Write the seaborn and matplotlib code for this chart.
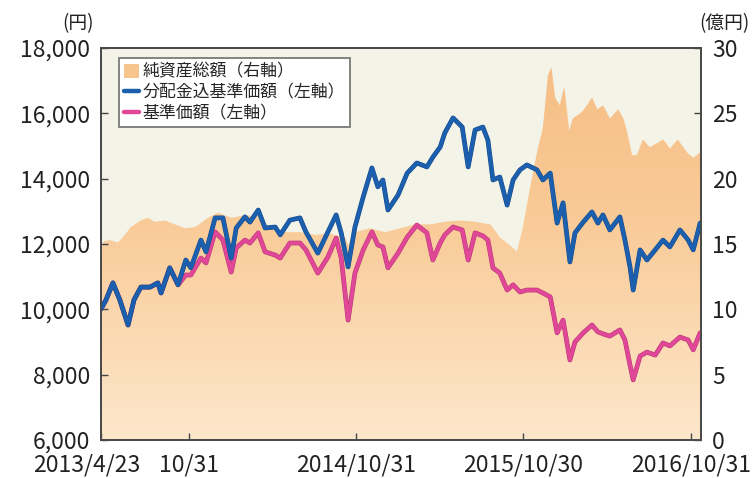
import numpy as np
import pandas as pd
import matplotlib
matplotlib.use('Agg')
import matplotlib.pyplot as plt
import matplotlib.dates as mdates
import matplotlib.patheffects as pe
from matplotlib.patches import Patch
from matplotlib.lines import Line2D
from matplotlib.colors import LinearSegmentedColormap
from matplotlib.transforms import ScaledTranslation
import seaborn as sns

# 基準価額の日付（両系列共通）
line_dates = [
    '2013-04-23', '2013-05-04', '2013-05-19', '2013-06-03', '2013-06-21', '2013-07-04', '2013-07-19', '2013-08-08', '2013-08-25', '2013-09-01',
    '2013-09-20', '2013-10-08', '2013-10-25', '2013-11-05', '2013-11-27', '2013-12-08', '2013-12-28', '2014-01-14', '2014-02-01', '2014-02-12',
    '2014-03-03', '2014-03-14', '2014-04-01', '2014-04-16', '2014-05-08', '2014-05-19', '2014-06-09', '2014-07-01', '2014-07-14', '2014-08-09',
    '2014-08-31', '2014-09-18', '2014-09-29', '2014-10-14', '2014-10-29', '2014-11-16', '2014-12-05', '2014-12-18', '2014-12-29', '2015-01-09',
    '2015-01-31', '2015-02-20', '2015-03-13', '2015-04-04', '2015-04-17', '2015-05-03', '2015-05-13', '2015-05-31', '2015-06-20', '2015-07-03',
    '2015-07-18', '2015-08-04', '2015-08-15', '2015-08-26', '2015-09-10', '2015-09-26', '2015-10-09', '2015-10-24', '2015-11-08', '2015-11-30',
    '2015-12-13', '2015-12-29', '2016-01-13', '2016-01-26', '2016-02-10', '2016-02-21', '2016-03-10', '2016-03-29', '2016-04-11', '2016-04-22',
    '2016-05-07', '2016-05-29', '2016-06-09', '2016-06-20', '2016-06-27', '2016-07-12', '2016-07-27', '2016-08-14', '2016-08-31', '2016-09-15',
    '2016-10-07', '2016-10-25', '2016-11-05', '2016-11-20',
]

# 分配金込基準価額（円）
nav_with_dist = [
    10010, 10290, 10810, 10290, 9520, 10290, 10680, 10680, 10810, 10500,
    11270, 10750, 11510, 11270, 12120, 11760, 12800, 12800, 11570, 12490,
    12830, 12670, 13040, 12490, 12520, 12280, 12730, 12800, 12370, 11720,
    12370, 12890, 12340, 11300, 12520, 13440, 14330, 13750, 13960, 13040,
    13500, 14170, 14480, 14360, 14660, 14970, 15400, 15860, 15580, 14360,
    15490, 15580, 15180, 13960, 14050, 13190, 13960, 14270, 14420, 14270,
    13960, 14170, 12640, 13260, 11450, 12340, 12670, 12980, 12640, 12890,
    12430, 12830, 12120, 11300, 10590, 11820, 11510, 11820, 12120, 11910,
    12430, 12120, 11820, 12640,
]

# 基準価額（円）
nav = [
    10010, 10290, 10810, 10290, 9520, 10290, 10680, 10680, 10810, 10500,
    11270, 10750, 11050, 11050, 11570, 11420, 12370, 12120, 11140, 11880,
    12120, 12030, 12340, 11760, 11660, 11570, 12030, 12030, 11820, 11110,
    11600, 12180, 11570, 9670, 11110, 11820, 12370, 11970, 11910, 11270,
    11720, 12210, 12580, 12340, 11510, 12030, 12280, 12520, 12430, 11510,
    12340, 12250, 12120, 11270, 11110, 10590, 10750, 10530, 10590, 10590,
    10500, 10380, 9280, 9670, 8450, 9000, 9280, 9520, 9310, 9250,
    9180, 9370, 9060, 8300, 7840, 8570, 8690, 8600, 8970, 8880,
    9150, 9060, 8760, 9280,
]

# 純資産総額（億円）
asset_dates = [
    '2013-04-23', '2013-04-29', '2013-05-12', '2013-05-30', '2013-06-14', '2013-06-27', '2013-07-19', '2013-08-03', '2013-08-18', '2013-09-09',
    '2013-10-01', '2013-10-23', '2013-11-14', '2013-11-27', '2013-12-12', '2014-01-03', '2014-02-01', '2014-03-03', '2014-04-01', '2014-04-27',
    '2014-05-29', '2014-07-01', '2014-08-02', '2014-09-05', '2014-10-07', '2014-10-14', '2014-10-29', '2014-12-01', '2015-01-03', '2015-02-04',
    '2015-03-09', '2015-04-11', '2015-05-13', '2015-06-15', '2015-07-18', '2015-08-20', '2015-09-10', '2015-10-02', '2015-10-17', '2015-10-30',
    '2015-11-15', '2015-11-30', '2015-12-13', '2015-12-24', '2015-12-31', '2016-01-08', '2016-01-19', '2016-01-28', '2016-02-08', '2016-02-16',
    '2016-03-07', '2016-03-18', '2016-03-29', '2016-04-09', '2016-04-22', '2016-05-07', '2016-05-25', '2016-06-05', '2016-06-13', '2016-06-24',
    '2016-07-05', '2016-07-18', '2016-08-02', '2016-08-17', '2016-08-31', '2016-09-15', '2016-10-02', '2016-10-22', '2016-11-05', '2016-11-20',
]
net_assets = [
    14.5, 15.2, 15.3, 15.1, 15.7, 16.3, 16.8, 17.0, 16.7, 16.8,
    16.5, 16.2, 16.3, 16.6, 17.0, 17.4, 17.0, 17.2, 17.1, 16.2,
    15.9, 15.9, 15.7, 15.8, 15.5, 14.9, 15.9, 16.2, 15.9, 16.2,
    16.5, 16.5, 16.7, 16.8, 16.7, 16.5, 15.5, 14.9, 14.4, 16.2,
    19.3, 22.0, 23.9, 27.9, 28.5, 26.2, 25.6, 27.0, 23.6, 24.6,
    25.1, 25.6, 26.2, 25.3, 25.6, 24.6, 25.3, 24.6, 23.6, 21.8,
    21.8, 23.0, 22.4, 22.7, 23.0, 22.3, 23.0, 22.0, 21.6, 22.0,
]

left_ticks = [6000, 8000, 10000, 12000, 14000, 16000, 18000]
left_labels = ['6,000', '8,000', '10,000', '12,000', '14,000', '16,000', '18,000']
right_ticks = [0, 5, 10, 15, 20, 25, 30]
x_ticks = ['2013-04-23', '2013-10-31', '2014-10-31', '2015-10-30', '2016-10-31']
x_labels = ['2013/4/23', '10/31', '2014/10/31', '2015/10/30', '2016/10/31']
legend_labels = ['純資産総額（右軸）', '分配金込基準価額（左軸）', '基準価額（左軸）']

sns.set_style('ticks')
plt.rcParams['font.family'] = ['Noto Sans CJK JP', 'DejaVu Sans']

lines = pd.DataFrame({'date': pd.to_datetime(line_dates),
                      'with_dist': nav_with_dist, 'nav': nav})
assets = pd.DataFrame({'date': pd.to_datetime(asset_dates), 'assets': net_assets})

blue = '#1c5fae'
pink = '#e04797'

fig = plt.figure(figsize=(7.56, 4.78), dpi=100)
ax = fig.add_axes([0.1336, 0.0795, 0.7937, 0.8201])
ax2 = ax.twinx()
ax.set_zorder(ax2.get_zorder() + 1)
ax.patch.set_visible(False)
ax2.patch.set_visible(True)
ax2.set_facecolor('#f4f3e7')

xmin, xmax = pd.Timestamp('2013-04-23'), pd.Timestamp('2016-11-22')

# net assets area with a soft vertical gradient
poly = ax2.fill_between(assets['date'], 0, assets['assets'], color='#fad2a6', lw=0, zorder=1)
cmap = LinearSegmentedColormap.from_list('area', [(0, '#fde7cb'), (0.55, '#f9cb98'), (1, '#f6bc83')])
grad = np.linspace(0, 1, 256).reshape(-1, 1)
im = ax2.imshow(grad, extent=[mdates.date2num(xmin), mdates.date2num(xmax), 0, 30],
                origin='lower', aspect='auto', cmap=cmap, zorder=2)
im.set_clip_path(poly.get_paths()[0], transform=ax2.transData)

sns.lineplot(data=lines, x='date', y='nav', ax=ax, color=pink, lw=2.7,
             path_effects=[pe.Stroke(linewidth=3.4, foreground='#b53577'), pe.Normal()])
sns.lineplot(data=lines, x='date', y='with_dist', ax=ax, color=blue, lw=2.7,
             path_effects=[pe.Stroke(linewidth=3.4, foreground='#164a88'), pe.Normal()])

ax.set_xlim(xmin, xmax)
ax.set_ylim(6000, 18000)
ax2.set_ylim(0, 30)
ax.set_xlabel('')
ax.set_ylabel('')

ax.set_yticks(left_ticks, left_labels)
ax2.set_yticks(right_ticks, [str(t) for t in right_ticks])
ax.set_xticks(pd.to_datetime(x_ticks), x_labels)
ax.tick_params(axis='both', direction='in', length=5, width=1, color='#444444',
               labelsize=16.5, labelcolor='#222222', pad=8)
ax.tick_params(axis='x', pad=10)
ax2.tick_params(axis='y', direction='in', length=5, width=1, color='#444444',
                labelsize=16.5, labelcolor='#222222', pad=8)

first = ax.get_xticklabels()[0]
first.set_transform(first.get_transform() + ScaledTranslation(-0.14, 0, fig.dpi_scale_trans))

for a in (ax, ax2):
    for s in a.spines.values():
        s.set_color('#4a4a4a')
        s.set_linewidth(1.3)

fig.text(0.103, 0.95, '(円)', ha='center', va='center', fontsize=13.5, color='#222222')
fig.text(0.958, 0.95, '(億円)', ha='center', va='center', fontsize=13.5, color='#222222')

handles = [Patch(facecolor='#f8c48e', edgecolor='none'),
           Line2D([0], [0], color=blue, lw=3.2),
           Line2D([0], [0], color=pink, lw=3.2)]
leg = ax.legend(handles, legend_labels, loc='upper left', bbox_to_anchor=(0.03, 0.975),
                fontsize=12.2, frameon=True, fancybox=False, framealpha=1,
                edgecolor='#7a7a7a', handlelength=0.9, handleheight=0.9,
                handletextpad=0.2, borderpad=0.3, labelspacing=0.15, borderaxespad=0)
leg.get_frame().set_linewidth(1.3)

fig.savefig('out.png', dpi=100, facecolor='white')
